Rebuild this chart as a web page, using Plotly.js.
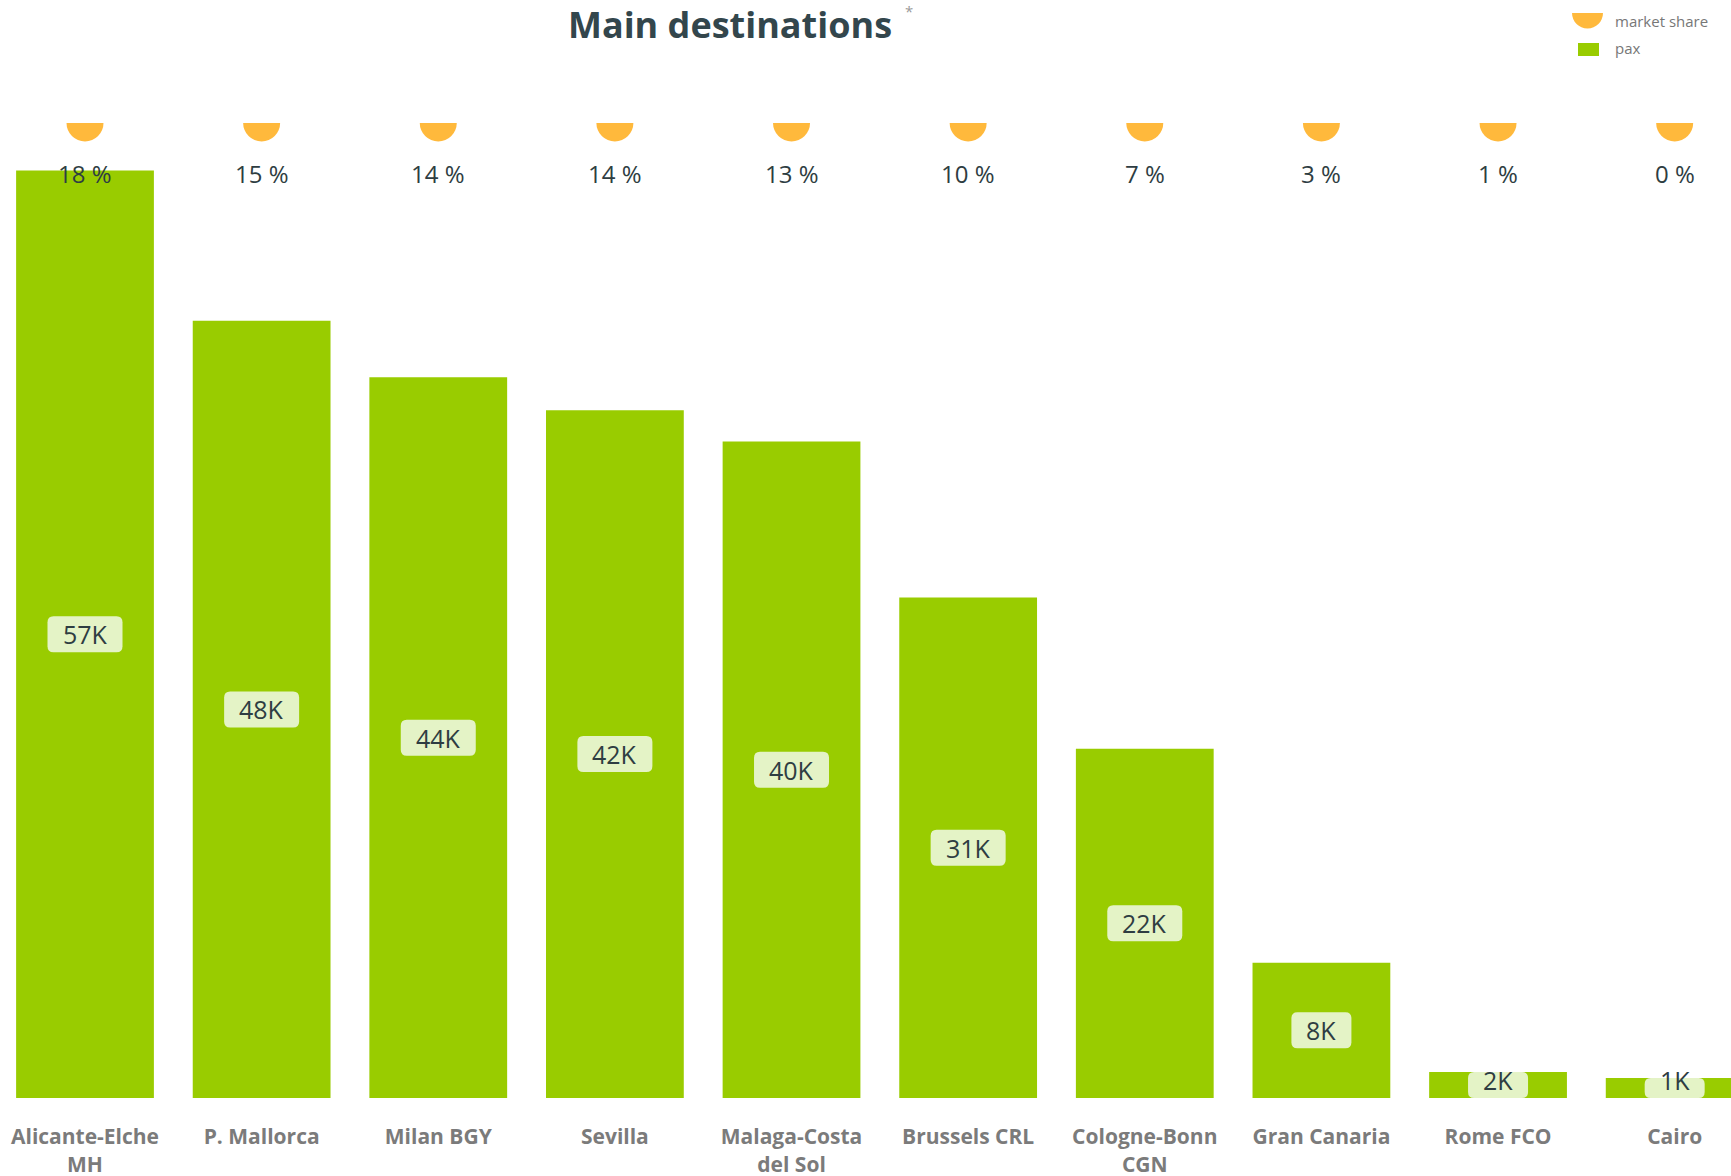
<!DOCTYPE html>
<html>
<head>
<meta charset="utf-8">
<script src="https://cdn.plot.ly/plotly-3.0.1.min.js"></script>
<style>html,body{margin:0;padding:0;background:#fff;}#chart{width:1731px;height:1176px;}</style>
</head>
<body>
<div id="chart"></div>
<script>
// ---- data ----
const categories = ['Alicante-Elche<br>MH', 'P. Mallorca', 'Milan BGY', 'Sevilla', 'Malaga-Costa<br>del Sol',
  'Brussels CRL', 'Cologne-Bonn<br>CGN', 'Gran Canaria', 'Rome FCO', 'Cairo'];
const pax = [57070, 47830, 44350, 42330, 40400, 30800, 21500, 8330, 1600, 1230];
const marketShare = [18, 15, 14, 14, 13, 10, 7, 3, 1, 0];
const seriesNames = ['market share', 'pax'];
const chartTitle = 'Main destinations';
const titleNote = '*';

// ---- layout constants ----
const W = 1731, H = 1176;
const M = {l: 0, r: 0, t: 123, b: 78};
const yMax = 60000;
const catPx = 176.63, firstCenterPx = 85;
const plotW = W - M.l - M.r, plotH = H - M.t - M.b;
const xRange = [-firstCenterPx / catPx, -firstCenterPx / catPx + plotW / catPx];
const pxPerUnit = plotH / yMax;

const idx = categories.map((c, i) => i);
const fmtK = v => Math.round(v / 1000) + 'K';

const textColor = '#2e3d42';
const green = '#99cc00';
const orange = '#ffb93c';
const boxColor = '#e4f3c6';

const traces = [
  {
    type: 'bar', name: seriesNames[1], x: idx, y: pax, width: 0.78,
    marker: {color: green}, hoverinfo: 'x+y', showlegend: false
  },
  {
    type: 'scatter', mode: 'markers', name: seriesNames[0], x: idx,
    y: marketShare.map(() => yMax), cliponaxis: true,
    marker: {color: orange, size: 37, line: {width: 0}},
    text: marketShare.map(s => s + ' %'), hoverinfo: 'text', showlegend: false
  }
];

const shapes = [];
const annotations = [];

// rounded label boxes (x in pixels around bar centre, y in data units, clamped to the bar)
pax.forEach((v, i) => {
  const label = fmtK(v);
  const hw = label.length >= 3 ? 37.5 : 30;
  const hh = 18 / pxPerUnit;
  const rx = 6, ry = 6 / pxPerUnit;
  const mid = Math.max(v / 2, hh);
  const y0 = Math.max(0, mid - hh);
  const y1 = Math.min(v, mid + hh);
  const path = `M ${-hw + rx},${y0} L ${hw - rx},${y0} Q ${hw},${y0} ${hw},${y0 + ry} ` +
    `L ${hw},${y1 - ry} Q ${hw},${y1} ${hw - rx},${y1} L ${-hw + rx},${y1} Q ${-hw},${y1} ${-hw},${y1 - ry} ` +
    `L ${-hw},${y0 + ry} Q ${-hw},${y0} ${-hw + rx},${y0} Z`;
  shapes.push({
    type: 'path', xref: 'x', yref: 'y', xsizemode: 'pixel', xanchor: i,
    path: path, fillcolor: boxColor, line: {width: 0}, layer: 'above'
  });
  annotations.push({
    x: i, y: mid, xref: 'x', yref: 'y', text: label, showarrow: false,
    xanchor: 'center', yanchor: 'middle',
    font: {family: 'Open Sans, sans-serif', size: 25, color: textColor}
  });
});

// market share labels
marketShare.forEach((s, i) => {
  annotations.push({
    x: i, y: yMax, xref: 'x', yref: 'y', text: s + ' %', showarrow: false,
    xanchor: 'center', yanchor: 'middle', yshift: -50,
    font: {family: 'Open Sans, sans-serif', size: 24, color: textColor}
  });
});

// custom legend
const xp = px => (px - M.l) / plotW;
const yp = py => (H - M.b - py) / plotH;
const r = 15.5, k = 0.5523 * r;
shapes.push({
  type: 'path', xref: 'paper', yref: 'paper', xsizemode: 'pixel', ysizemode: 'pixel',
  xanchor: xp(1587.5), yanchor: yp(13),
  path: `M ${-r},0 L ${r},0 C ${r},${-k} ${k},${-r} 0,${-r} C ${-k},${-r} ${-r},${-k} ${-r},0 Z`,
  fillcolor: orange, line: {width: 0}
});
shapes.push({
  type: 'rect', xref: 'paper', yref: 'paper', xsizemode: 'pixel', ysizemode: 'pixel',
  xanchor: xp(1588.5), yanchor: yp(49.5), x0: -10.5, x1: 10.5, y0: -6.5, y1: 6.5,
  fillcolor: green, line: {width: 0}
});
[[seriesNames[0], 21], [seriesNames[1], 48]].forEach(([t, py]) => {
  annotations.push({
    x: xp(1613), y: yp(py), xref: 'paper', yref: 'paper', text: t, showarrow: false,
    xanchor: 'left', yanchor: 'middle',
    font: {family: 'Open Sans, sans-serif', size: 15, color: '#777777'}
  });
});

// asterisk note next to the title
annotations.push({
  x: xp(909), y: yp(11), xref: 'paper', yref: 'paper', text: titleNote, showarrow: false,
  xanchor: 'center', yanchor: 'middle',
  font: {family: 'Open Sans, sans-serif', size: 15, color: '#9a9a9a'}
});

const layout = {
  width: W, height: H,
  margin: M,
  paper_bgcolor: '#ffffff', plot_bgcolor: '#ffffff',
  showlegend: false,
  title: {
    text: chartTitle,
    x: 730 / W, xref: 'container', xanchor: 'center',
    y: 1 - 25 / H, yref: 'container', yanchor: 'middle',
    font: {family: 'Open Sans, sans-serif', size: 36, weight: 'bold', color: '#33464c'}
  },
  xaxis: {
    range: xRange, tickmode: 'array', tickvals: idx, ticktext: categories,
    showgrid: false, zeroline: false, showline: false,
    ticks: 'outside', ticklen: 20, tickcolor: 'rgba(0,0,0,0)',
    tickfont: {family: 'Open Sans, sans-serif', size: 21, weight: 'bold', color: '#7b7b7b'},
    automargin: false, fixedrange: true
  },
  yaxis: {
    range: [0, yMax], visible: false, showgrid: false, zeroline: false,
    automargin: false, fixedrange: true
  },
  shapes: shapes,
  annotations: annotations
};

Plotly.newPlot('chart', traces, layout, {displayModeBar: false});
</script>
</body>
</html>
